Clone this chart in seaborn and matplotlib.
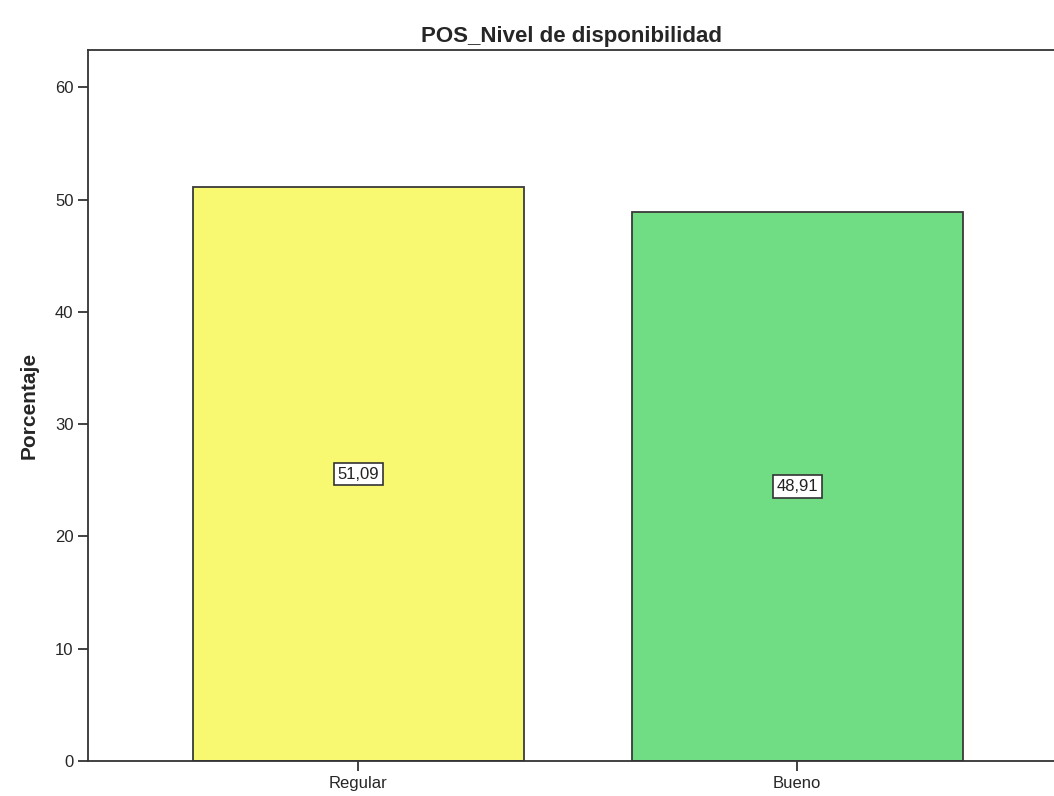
import matplotlib
matplotlib.use("Agg")
import matplotlib.pyplot as plt
import seaborn as sns
import pandas as pd

categorias = ["Regular", "Bueno"]
porcentajes = [51.09, 48.91]
etiquetas = ["51,09", "48,91"]
colores = ["#F9F871", "#70DC84"]

sns.set_style("white")
plt.rcParams['font.family'] = ['Liberation Sans', 'DejaVu Sans']

df = pd.DataFrame({"Nivel": categorias, "Porcentaje": porcentajes})

fig = plt.figure(figsize=(10.54, 7.96), dpi=100)
ax = fig.add_axes([0.0835, 0.044, 0.9165, 0.893])

sns.barplot(data=df, x="Nivel", y="Porcentaje", hue="Nivel", palette=colores,
            saturation=1, width=0.754, edgecolor="#3a3a3a", linewidth=1.3,
            legend=False, ax=ax)

# etiquetas en medio de cada barra
for i, (v, t) in enumerate(zip(porcentajes, etiquetas)):
    ax.text(i, v / 2, t, ha="center", va="center", fontsize=12, color="#222222",
            bbox=dict(boxstyle="square,pad=0.22", facecolor="white", edgecolor="#333333", linewidth=1.2))

ax.set_xlim(-0.615, 1.585)
ax.set_ylim(0, 63.3)
ax.set_yticks([0, 10, 20, 30, 40, 50, 60])
ax.set_title("POS_Nivel de disponibilidad", fontsize=16, fontweight="bold", pad=6)
ax.set_ylabel("Porcentaje", fontsize=15, fontweight="bold", labelpad=12)
ax.set_xlabel("")

for s in ["left", "bottom", "top"]:
    ax.spines[s].set_visible(True)
    ax.spines[s].set_color("#333333")
    ax.spines[s].set_linewidth(1.3)
ax.spines["right"].set_visible(False)

ax.tick_params(axis="both", which="both", length=7, width=1.3, color="#333333",
               labelsize=12, direction="out", left=True, bottom=True)

fig.savefig("out.png", dpi=100)
